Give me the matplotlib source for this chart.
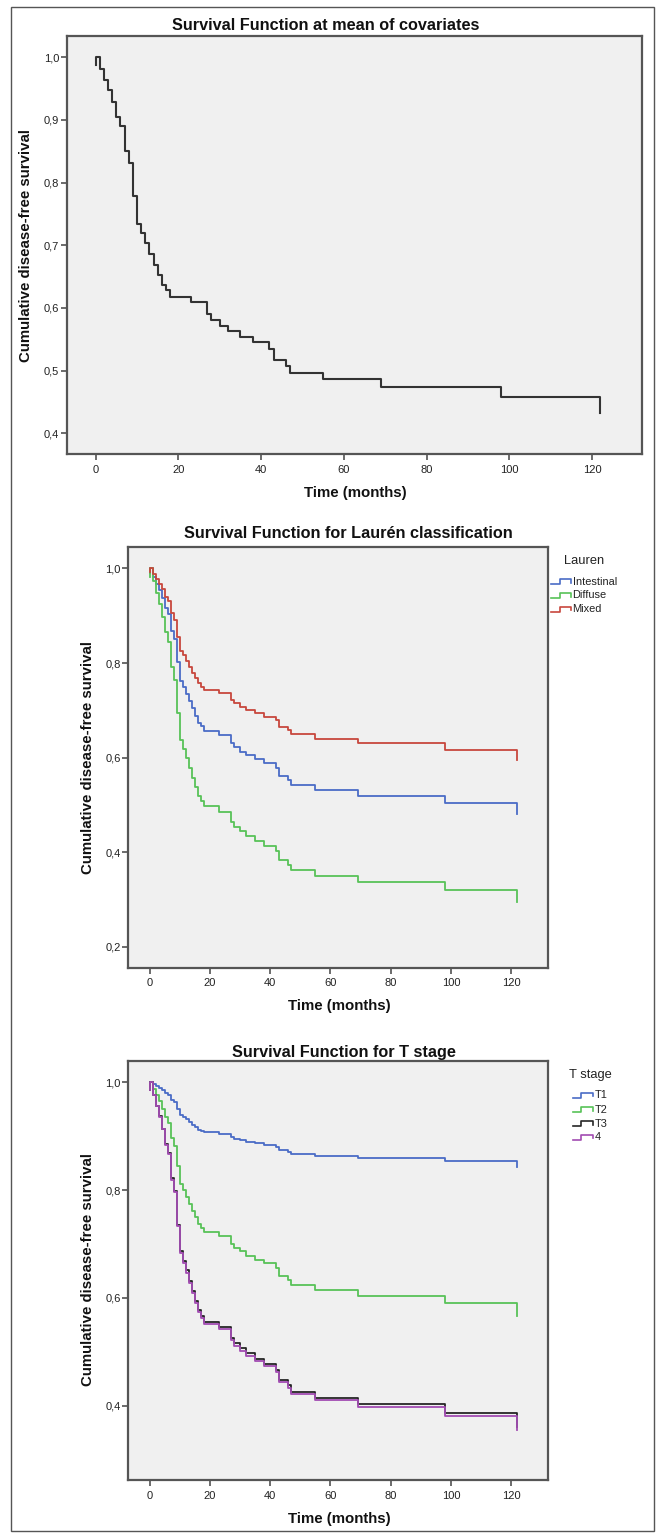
import matplotlib
matplotlib.use('Agg')
import matplotlib.pyplot as plt
from matplotlib.lines import Line2D
from matplotlib.patches import Rectangle

plt.rcParams['font.family'] = ['Liberation Sans', 'DejaVu Sans']

W, H = 657, 1535

# event times (months); first 0 is the start hook of the SPSS curve
months = [0, 0, 1, 2, 3, 4, 5, 6, 7, 8, 9, 10, 11, 12, 13, 14, 15, 16, 17, 18,
          23, 27, 28, 30, 32, 35, 38, 42, 43, 46, 47, 55, 69, 98, 122]

# panel 1 - survival at mean of covariates
surv_mean = [0.988, 1.0, 0.981, 0.964, 0.948, 0.929, 0.905, 0.891, 0.851, 0.831,
             0.778, 0.734, 0.719, 0.703, 0.686, 0.669, 0.653, 0.637, 0.628, 0.618,
             0.609, 0.590, 0.581, 0.572, 0.563, 0.554, 0.545, 0.535, 0.517, 0.508,
             0.497, 0.486, 0.474, 0.458, 0.432]

# panel 2 - Lauren classification
lauren_names = ['Intestinal', 'Diffuse', 'Mixed']
surv_intestinal = [0.990, 1.0, 0.983, 0.968, 0.954, 0.938, 0.916, 0.904, 0.868, 0.850,
                   0.803, 0.763, 0.749, 0.735, 0.719, 0.704, 0.689, 0.674, 0.666, 0.656,
                   0.648, 0.630, 0.622, 0.613, 0.605, 0.597, 0.588, 0.579, 0.561, 0.553,
                   0.542, 0.532, 0.520, 0.505, 0.480]
surv_diffuse = [0.983, 1.0, 0.973, 0.948, 0.925, 0.898, 0.865, 0.845, 0.791, 0.764,
                0.694, 0.638, 0.619, 0.599, 0.578, 0.557, 0.538, 0.519, 0.508, 0.497,
                0.486, 0.464, 0.454, 0.444, 0.434, 0.423, 0.414, 0.403, 0.383, 0.373,
                0.362, 0.350, 0.338, 0.321, 0.295]
surv_mixed = [0.993, 1.0, 0.988, 0.978, 0.968, 0.956, 0.940, 0.931, 0.905, 0.892,
              0.856, 0.826, 0.816, 0.804, 0.792, 0.780, 0.769, 0.757, 0.750, 0.743,
              0.736, 0.722, 0.715, 0.708, 0.701, 0.694, 0.687, 0.679, 0.665, 0.658,
              0.649, 0.640, 0.630, 0.617, 0.595]

# panel 3 - T stage
tstage_names = ['T1', 'T2', 'T3', '4']
surv_t1 = [0.998, 1.0, 0.996, 0.993, 0.989, 0.985, 0.980, 0.977, 0.968, 0.963,
           0.950, 0.939, 0.935, 0.931, 0.926, 0.921, 0.917, 0.912, 0.910, 0.907,
           0.904, 0.898, 0.895, 0.892, 0.889, 0.887, 0.884, 0.880, 0.874, 0.871,
           0.867, 0.863, 0.859, 0.853, 0.843]
surv_t2 = [0.992, 1.0, 0.987, 0.976, 0.965, 0.951, 0.935, 0.925, 0.897, 0.882,
           0.844, 0.811, 0.800, 0.788, 0.775, 0.762, 0.750, 0.737, 0.730, 0.722,
           0.715, 0.700, 0.693, 0.686, 0.678, 0.671, 0.664, 0.655, 0.640, 0.633,
           0.623, 0.614, 0.604, 0.590, 0.567]
surv_t3 = [0.985, 1.0, 0.977, 0.956, 0.937, 0.914, 0.885, 0.869, 0.822, 0.798,
           0.736, 0.686, 0.669, 0.651, 0.632, 0.613, 0.595, 0.577, 0.567, 0.556,
           0.546, 0.526, 0.516, 0.506, 0.497, 0.487, 0.477, 0.467, 0.447, 0.438,
           0.426, 0.415, 0.403, 0.386, 0.360]
surv_t4 = [0.985, 1.0, 0.977, 0.956, 0.936, 0.913, 0.884, 0.867, 0.819, 0.796,
           0.733, 0.683, 0.665, 0.647, 0.628, 0.609, 0.591, 0.573, 0.563, 0.552,
           0.542, 0.521, 0.511, 0.502, 0.492, 0.482, 0.473, 0.462, 0.443, 0.433,
           0.422, 0.410, 0.398, 0.381, 0.355]

x_ticks = [0, 20, 40, 60, 80, 100, 120]
y_ticks1 = [0.4, 0.5, 0.6, 0.7, 0.8, 0.9, 1.0]
y_labels1 = ['0,4', '0,5', '0,6', '0,7', '0,8', '0,9', '1,0']
y_ticks2 = [0.2, 0.4, 0.6, 0.8, 1.0]
y_labels2 = ['0,2', '0,4', '0,6', '0,8', '1,0']
y_ticks3 = [0.4, 0.6, 0.8, 1.0]
y_labels3 = ['0,4', '0,6', '0,8', '1,0']

BLUE = '#4a6cc6'
GREEN = '#58c258'
RED = '#c8473d'
BLACK = '#262626'
PURPLE = '#a24cb2'

fig = plt.figure(figsize=(W / 100, H / 100), dpi=100)


def fx(px):
    return px / W


def fy(py):
    return 1 - py / H


def panel(left, top, right, bottom, ylim, yticks, ylabels):
    ax = fig.add_axes([fx(left), fy(bottom), (right - left) / W, (bottom - top) / H])
    ax.set_facecolor('#f0f0f0')
    ax.set_xlim(-7, 132)
    ax.set_ylim(*ylim)
    ax.set_xticks(x_ticks)
    ax.set_xticklabels([str(t) for t in x_ticks])
    ax.set_yticks(yticks)
    ax.set_yticklabels(ylabels)
    for s in ax.spines.values():
        s.set_color('#555555')
        s.set_linewidth(1.6)
    ax.tick_params(direction='out', length=4.3, width=1.1, color='#444444',
                   labelsize=8, labelcolor='#222222')
    ax.tick_params(axis='x', pad=3.4)
    ax.tick_params(axis='y', pad=1.2)
    return ax


def labels(title, tx, ty, xlx, xly, ylx, yly):
    fig.text(fx(tx), fy(ty), title, ha='center', va='baseline',
             fontsize=11.7, fontweight='bold', color='#111111')
    fig.text(fx(xlx), fy(xly), 'Time (months)', ha='center', va='baseline',
             fontsize=10.8, fontweight='bold', color='#111111')
    fig.text(fx(ylx), fy(yly), 'Cumulative disease-free survival', ha='center',
             va='center', rotation=90, fontsize=10.8, fontweight='bold', color='#111111')


def legend(title, tx, ty, names, colors, x0, xs, x1, rows):
    fig.text(fx(tx), fy(ty), title, ha='center', va='center', fontsize=9.3, color='#222222')
    for name, col, r in zip(names, colors, rows):
        xs_ = [x0, xs, xs, x1, x1]
        ys_ = [r + 2.5, r + 2.5, r - 2.5, r - 2.5, r + 1]
        fig.add_artist(Line2D([fx(v) for v in xs_], [fy(v) for v in ys_],
                              color=col, lw=1.2, transform=fig.transFigure))
        fig.text(fx(x1 + 1.5), fy(r), name, ha='left', va='center',
                 fontsize=7.9, color='#222222')


# panel 1
ax1 = panel(66.7, 36, 641.7, 454, (0.367, 1.034), y_ticks1, y_labels1)
ax1.step(months, surv_mean, where='post', color='#333333', lw=1.5)
labels('Survival Function at mean of covariates', 326, 29.5, 355, 497.5, 26, 245)

# panel 2
ax2 = panel(128.4, 546.7, 547.6, 967.7, (0.156, 1.046), y_ticks2, y_labels2)
for vals, col in zip([surv_intestinal, surv_diffuse, surv_mixed], [BLUE, GREEN, RED]):
    ax2.step(months, vals, where='post', color=col, lw=1.3)
labels('Survival Function for Laurén classification', 348, 538.3, 339, 1009.5, 88, 757)
legend('Lauren', 584, 561.5, lauren_names, [BLUE, GREEN, RED], 551, 560, 571,
       [581.7, 595.5, 609.3])

# panel 3
ax3 = panel(128.4, 1060.7, 547.6, 1480, (0.262, 1.040), y_ticks3, y_labels3)
for vals, col in zip([surv_t1, surv_t2, surv_t3, surv_t4], [BLUE, GREEN, BLACK, PURPLE]):
    ax3.step(months, vals, where='post', color=col, lw=1.3)
labels('Survival Function for T stage', 344, 1056.5, 339, 1523, 88, 1270)
legend('T stage', 590, 1075, tstage_names, [BLUE, GREEN, BLACK, PURPLE], 573.3, 580.7, 593.3,
       [1095, 1109.6, 1123.6, 1137])

# outer frame around the whole figure
fig.add_artist(Rectangle((fx(11), fy(1531)), (654 - 11) / W, (1531 - 7) / H,
                         fill=False, edgecolor='#555555', lw=1.0, transform=fig.transFigure))

fig.savefig('out.png', dpi=100)
